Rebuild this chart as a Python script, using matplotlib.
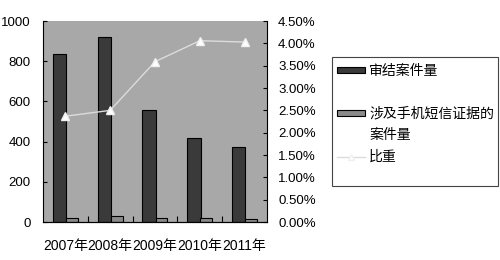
import matplotlib
matplotlib.use('Agg')
import matplotlib.pyplot as plt
import numpy as np
from matplotlib.ticker import FixedLocator, PercentFormatter
from matplotlib.patches import Rectangle
from matplotlib.lines import Line2D

plt.rcParams['font.family'] = ['Liberation Sans', 'Noto Sans CJK SC', 'DejaVu Sans']

years = ['2007年', '2008年', '2009年', '2010年', '2011年']
closed_cases = [836, 919, 557, 416, 372]          # 审结案件量
sms_cases = [22, 28, 22, 22, 15]                  # 涉及手机短信证据的案件量
ratio = [2.37, 2.50, 3.59, 4.06, 4.03]            # 比重 (%)
labels = ['审结案件量', '涉及手机短信证据的\n案件量', '比重']

DARK, MID, LINE = '#3a3a3a', '#8a8a8a', '#dcdcdc'
W, H = 500, 260

fig = plt.figure(figsize=(5, 2.6), dpi=100)
ax = fig.add_axes([0.086, 0.146, 0.448, 0.773])
ax.set_facecolor('#a8a8a8')
x = np.arange(len(years))
ax.bar(x - 0.13, closed_cases, width=0.30, color=DARK, edgecolor='black', lw=0.8)
ax.bar(x + 0.145, sms_cases, width=0.26, color=MID, edgecolor='black', lw=0.8)
ax.set_xlim(-0.5, 4.5)
ax.set_ylim(0, 1000)
ax.set_yticks([0, 200, 400, 600, 800, 1000])
ax.set_xticks(x)
ax.set_xticklabels(years, fontsize=10)
ax.xaxis.set_minor_locator(FixedLocator(x[:-1] + 0.5))
ax.tick_params(axis='x', which='major', length=0, pad=12)
ax.tick_params(axis='x', which='minor', direction='in', length=4, width=0.8)
ax.tick_params(axis='y', direction='in', length=3, labelsize=9.5, pad=9)
for s in ['top', 'right']:
    ax.spines[s].set_visible(False)

ax2 = ax.twinx()
ax2.plot(x, ratio, color=LINE, lw=1.0, marker='^', ms=5.5, mfc='white', mec='#f0f0f0')
ax2.set_ylim(0, 4.5)
ax2.set_yticks(np.arange(0, 4.51, 0.5))
ax2.yaxis.set_major_formatter(PercentFormatter(decimals=2))
ax2.tick_params(axis='y', direction='in', length=3, labelsize=9.5, pad=8)
for s in ['top', 'left']:
    ax2.spines[s].set_visible(False)

# legend box drawn in pixel positions (Excel-style spacing)
def fx(px): return px / W
def fy(py): return 1 - py / H
fig.add_artist(Rectangle((fx(332), fy(186)), fx(498) - fx(332), fy(57) - fy(186),
                         transform=fig.transFigure, fill=False, ec='#444444', lw=0.8))
fig.add_artist(Rectangle((fx(337), fy(73)), fx(365) - fx(337), fy(67) - fy(73),
                         transform=fig.transFigure, fc=DARK, ec='black', lw=0.8))
fig.add_artist(Rectangle((fx(337), fy(116)), fx(365) - fx(337), fy(110) - fy(116),
                         transform=fig.transFigure, fc=MID, ec='black', lw=0.8))
fig.add_artist(Line2D([fx(337), fx(365)], [fy(157), fy(157)], transform=fig.transFigure,
                      color=LINE, lw=1.0))
fig.add_artist(Line2D([fx(351)], [fy(157)], transform=fig.transFigure, marker='^', ms=4,
                      mfc='white', mec='#f0f0f0', lw=0))
for lab, yc in zip(labels, [71, 124.5, 157]):
    fig.text(fx(369), fy(yc), lab, fontsize=10, va='center', ha='left', linespacing=1.65)

fig.savefig('out.png', dpi=100)
